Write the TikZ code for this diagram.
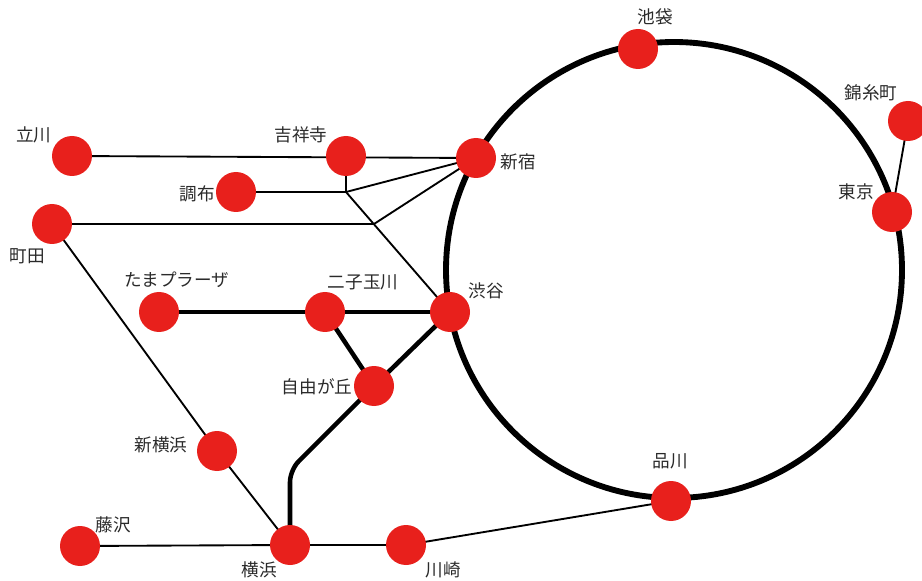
\documentclass[tikz,border=0pt]{standalone}
\usepackage{fontspec}
\newfontfamily\jpfont{Noto Sans CJK JP}
\definecolor{stationred}{HTML}{E8201C}
\definecolor{labelgray}{HTML}{2A2A2A}
\usetikzlibrary{backgrounds}

\begin{document}
\begin{tikzpicture}[x=0.75pt, y=-0.75pt,
    station/.style={circle, fill=stationred, inner sep=0pt, minimum size=30pt},
    stationname/.style={font=\jpfont\fontsize{13.2}{14}\selectfont, text=labelgray, inner sep=0pt},
    ring/.style={circle, draw, line width=4.4pt, inner sep=0pt, minimum size=342pt},
    thin line/.style={line width=1.4pt},
    thick line/.style={line width=3.4pt, rounded corners=9pt}]
    \useasboundingbox (0,0) rectangle (922,581);

    \node (Yamanote) [ring] at (674,270) {};

    \node (Ikebukuro) [station] at (638,49) {};
    \node (Kinshicho) [station] at (908,121) {};
    \node (Tokyo) [station] at (892,212) {};
    \node (Shinjuku) [station] at (476,158) {};
    \node (Kichijoji) [station] at (346,156) {};
    \node (Tachikawa) [station] at (72,156) {};
    \node (Chofu) [station] at (236,192) {};
    \node (Machida) [station] at (52,224) {};
    \node (Tamaplaza) [station] at (159,312) {};
    \node (Futako) [station] at (325,312) {};
    \node (Shibuya) [station] at (450,312) {};
    \node (Jiyugaoka) [station] at (374,386) {};
    \node (Shinyoko) [station] at (217,451) {};
    \node (Fujisawa) [station] at (80,546) {};
    \node (Yokohama) [station] at (290,545) {};
    \node (Kawasaki) [station] at (406,545) {};
    \node (Shinagawa) [station] at (671,501) {};

    \coordinate (ChofuJoin) at (346,192);
    \coordinate (MachidaJoin) at (374,224);
    \coordinate (YokohamaBend) at (290,470);

    \node (TachikawaName) [stationname] at (34,135) {立川};
    \node (KichijojiName) [stationname] at (301,135) {吉祥寺};
    \node (ChofuName) [stationname] at (197,194) {調布};
    \node (MachidaName) [stationname] at (27,256) {町田};
    \node (TamaplazaName) [stationname] at (177,280) {たまプラーザ};
    \node (FutakoName) [stationname] at (363,282) {二子玉川};
    \node (ShibuyaName) [stationname] at (486,291) {渋谷};
    \node (ShinjukuName) [stationname] at (518,162) {新宿};
    \node (IkebukuroName) [stationname] at (655,17) {池袋};
    \node (KinshichoName) [stationname] at (871,93) {錦糸町};
    \node (TokyoName) [stationname] at (856,192) {東京};
    \node (JiyugaokaName) [stationname] at (317,387) {自由が丘};
    \node (ShinyokoName) [stationname] at (161,445) {新横浜};
    \node (FujisawaName) [stationname] at (113,525) {藤沢};
    \node (YokohamaName) [stationname] at (259,570) {横浜};
    \node (KawasakiName) [stationname] at (443,570) {川崎};
    \node (ShinagawaName) [stationname] at (670,461) {品川};

    \begin{scope}[on background layer]
        \draw[thin line] (Tachikawa.center) -- (Shinjuku.center);
        \draw[thin line] (Chofu.center) -- (ChofuJoin) -- (Shinjuku.center);
        \draw[thin line] (Kichijoji.center) -- (ChofuJoin) -- (Shibuya.center);
        \draw[thin line] (Machida.center) -- (MachidaJoin) -- (Shinjuku.center);
        \draw[thin line] (Machida.center) -- (Shinyoko.center) -- (Yokohama.center);
        \draw[thin line] (Fujisawa.center) -- (Yokohama.center) -- (Kawasaki.center) -- (Shinagawa.center);
        \draw[thin line] (Kinshicho.center) -- (Tokyo.center);
        \draw[thick line] (Tamaplaza.center) -- (Futako.center) -- (Shibuya.center);
        \draw[thick line] (Futako.center) -- (Jiyugaoka.center);
        \draw[thick line] (Shibuya.center) -- (Jiyugaoka.center) -- (YokohamaBend) -- (Yokohama.center);
    \end{scope}
\end{tikzpicture}
\end{document}
